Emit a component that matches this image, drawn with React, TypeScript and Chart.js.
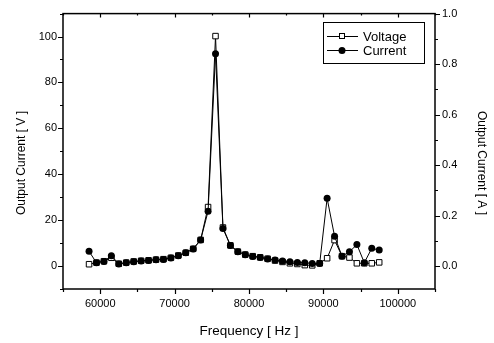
import React, { useEffect, useRef } from 'react';
import { Chart, registerables } from 'chart.js';

Chart.register(...registerables);

const FONT = '"Liberation Sans", Arial, sans-serif';

// Frequency [Hz]
const frequency = [
  58500, 59500, 60500, 61500, 62500, 63500, 64500, 65500, 66500, 67500,
  68500, 69500, 70500, 71500, 72500, 73500, 74500, 75500, 76500, 77500,
  78500, 79500, 80500, 81500, 82500, 83500, 84500, 85500, 86500, 87500,
  88500, 89500, 90500, 91500, 92500, 93500, 94500, 95500, 96500, 97500,
];

// Output voltage [V] (left axis)
const voltage = [
  0.8, 1.5, 2.1, 3.6, 1.0, 1.5, 2.0, 2.3, 2.5, 2.8,
  3.0, 3.6, 4.6, 5.8, 7.5, 11.4, 25.7, 100.2, 16.8, 9.0,
  6.3, 5.0, 4.3, 3.8, 3.2, 2.4, 1.8, 1.2, 0.9, 0.4,
  0.3, 1.2, 3.4, 11.3, 4.3, 3.7, 1.2, 1.2, 1.2, 1.6,
];

// Output current [A] (right axis)
const current = [
  0.059, 0.014, 0.019, 0.042, 0.009, 0.014, 0.018, 0.021, 0.023, 0.026,
  0.027, 0.033, 0.042, 0.053, 0.068, 0.104, 0.218, 0.841, 0.149, 0.082,
  0.057, 0.046, 0.039, 0.035, 0.029, 0.025, 0.021, 0.018, 0.015, 0.014,
  0.011, 0.011, 0.269, 0.119, 0.040, 0.057, 0.086, 0.014, 0.071, 0.064,
];

const xMajorTicks = [60000, 70000, 80000, 90000, 100000];
const xMinorTicks = [55000, 65000, 75000, 85000, 95000, 105000];
const leftMajorTicks = [0, 20, 40, 60, 80, 100];
const leftMinorTicks = [-10, 10, 30, 50, 70, 90, 110];
const rightMajorTicks = [0.0, 0.2, 0.4, 0.6, 0.8, 1.0];
const rightMinorTicks = [0.1, 0.3, 0.5, 0.7, 0.9];

const xTitle = 'Frequency [ Hz ]';
const leftTitle = 'Output Current [ V ]';
const rightTitle = 'Output Current [ A ]';
const legendLabels = ['Voltage', 'Current'];

const framePlugin = {
  id: 'frame',
  afterDatasetsDraw(chart: any) {
    const ctx = chart.ctx as CanvasRenderingContext2D;
    const { left, right, top, bottom } = chart.chartArea;
    const xs = chart.scales.x;
    const yl = chart.scales.y;
    const yr = chart.scales.y1;
    ctx.save();
    ctx.strokeStyle = '#000';
    ctx.lineWidth = 1.2;
    ctx.beginPath();
    const vTick = (v: number, len: number) => {
      const px = Math.round(xs.getPixelForValue(v)) + 0.5;
      ctx.moveTo(px, bottom);
      ctx.lineTo(px, bottom + len);
      ctx.moveTo(px, top);
      ctx.lineTo(px, top + len - 1);
    };
    xMajorTicks.forEach((v) => vTick(v, 5));
    xMinorTicks.forEach((v) => vTick(v, 3));
    const lTick = (v: number, len: number) => {
      const py = Math.round(yl.getPixelForValue(v)) + 0.5;
      ctx.moveTo(left, py);
      ctx.lineTo(left - len, py);
    };
    leftMajorTicks.forEach((v) => lTick(v, 5));
    leftMinorTicks.forEach((v) => lTick(v, 3));
    const rTick = (v: number, len: number) => {
      const py = Math.round(yr.getPixelForValue(v)) + 0.5;
      ctx.moveTo(right, py);
      ctx.lineTo(right + len, py);
    };
    rightMajorTicks.forEach((v) => rTick(v, 5));
    rightMinorTicks.forEach((v) => rTick(v, 3));
    ctx.stroke();

    ctx.lineWidth = 1.5;
    ctx.strokeRect(left, top, right - left, bottom - top);

    // axis titles
    ctx.fillStyle = '#000';
    ctx.textAlign = 'center';
    ctx.textBaseline = 'middle';
    ctx.font = `13.5px ${FONT}`;
    ctx.fillText(xTitle, (left + right) / 2, 331);
    ctx.font = `12px ${FONT}`;
    ctx.save();
    ctx.translate(22, 163);
    ctx.rotate(-Math.PI / 2);
    ctx.fillText(leftTitle, 0, 0);
    ctx.restore();
    ctx.save();
    ctx.translate(481, 163);
    ctx.rotate(Math.PI / 2);
    ctx.fillText(rightTitle, 0, 0);
    ctx.restore();

    // legend
    const bx = 323.5, by = 22.5, bw = 101, bh = 41;
    ctx.fillStyle = '#fff';
    ctx.fillRect(bx, by, bw, bh);
    ctx.lineWidth = 1;
    ctx.strokeStyle = '#000';
    ctx.strokeRect(bx, by, bw, bh);
    const rows = [36, 50];
    rows.forEach((ry, i) => {
      ctx.beginPath();
      ctx.moveTo(327, ry + 0.5);
      ctx.lineTo(358, ry + 0.5);
      ctx.stroke();
      if (i === 0) {
        ctx.fillStyle = '#fff';
        ctx.fillRect(339.5, ry - 2.5, 5, 5);
        ctx.strokeRect(339.5, ry - 2.5, 5, 5);
      } else {
        ctx.fillStyle = '#000';
        ctx.beginPath();
        ctx.arc(342, ry + 0.5, 3.5, 0, Math.PI * 2);
        ctx.fill();
      }
      ctx.fillStyle = '#000';
      ctx.font = `13px ${FONT}`;
      ctx.textAlign = 'left';
      ctx.textBaseline = 'middle';
      ctx.fillText(legendLabels[i], 363, ry + 1);
    });
    ctx.restore();
  },
};

export default function App() {
  const ref = useRef<HTMLCanvasElement | null>(null);

  useEffect(() => {
    if (!ref.current) return;
    const tickFont = { family: FONT, size: 11 };
    const chart = new Chart(ref.current, {
      type: 'line',
      data: {
        datasets: [
          {
            label: legendLabels[0],
            data: frequency.map((f, i) => ({ x: f, y: voltage[i] })),
            yAxisID: 'y',
            borderColor: '#000',
            borderWidth: 1,
            pointStyle: 'rect',
            pointRadius: 3.9,
            pointBackgroundColor: '#fff',
            pointBorderColor: '#000',
            pointBorderWidth: 1,
            tension: 0,
            order: 1,
          },
          {
            label: legendLabels[1],
            data: frequency.map((f, i) => ({ x: f, y: current[i] })),
            yAxisID: 'y1',
            borderColor: '#000',
            borderWidth: 1,
            pointStyle: 'circle',
            pointRadius: 3.5,
            pointBackgroundColor: '#000',
            pointBorderColor: '#000',
            pointBorderWidth: 0,
            tension: 0,
            order: 0,
          },
        ],
      },
      options: {
        animation: false,
        responsive: false,
        layout: { padding: { top: 11, left: 0, right: 0, bottom: 0 } },
        plugins: { legend: { display: false }, tooltip: { enabled: false } },
        scales: {
          x: {
            type: 'linear',
            position: 'bottom',
            min: 55000,
            max: 105000,
            afterBuildTicks: (s: any) => {
              s.ticks = xMajorTicks.map((v) => ({ value: v }));
            },
            afterFit: (s: any) => {
              s.height = 54;
            },
            grid: { display: false, drawTicks: false },
            border: { display: false },
            ticks: {
              color: '#000',
              font: tickFont,
              padding: 8,
              maxRotation: 0,
              autoSkip: false,
              callback: (v: any) => String(v),
            },
          },
          y: {
            type: 'linear',
            position: 'left',
            min: -10,
            max: 110,
            afterBuildTicks: (s: any) => {
              s.ticks = leftMajorTicks.map((v) => ({ value: v }));
            },
            afterFit: (s: any) => {
              s.width = 63;
            },
            grid: { display: false, drawTicks: false },
            border: { display: false },
            ticks: {
              color: '#000',
              font: tickFont,
              padding: 6,
              callback: (v: any) => String(v),
            },
          },
          y1: {
            type: 'linear',
            position: 'right',
            min: -0.09,
            max: 1.0,
            afterBuildTicks: (s: any) => {
              s.ticks = rightMajorTicks.map((v) => ({ value: v }));
            },
            afterFit: (s: any) => {
              s.width = 59;
            },
            grid: { display: false, drawTicks: false },
            border: { display: false },
            ticks: {
              color: '#000',
              font: tickFont,
              padding: 7,
              callback: (v: any) => Number(v).toFixed(1),
            },
          },
        },
      },
      plugins: [framePlugin],
    });
    return () => chart.destroy();
  }, []);

  return (
    <div style={{ position: 'fixed', left: 0, top: 0, width: 494, height: 343, background: '#fff' }}>
      <canvas ref={ref} width={494} height={343} style={{ width: 494, height: 343 }} />
    </div>
  );
}
